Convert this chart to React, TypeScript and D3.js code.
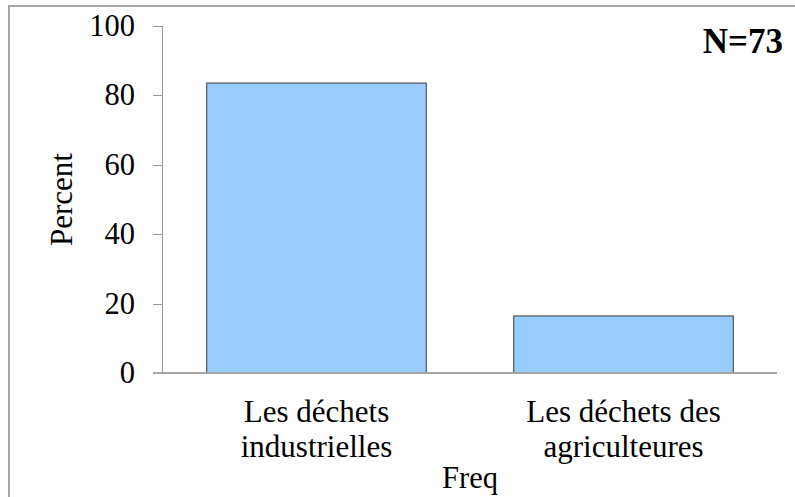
import React from "react";
import * as d3 from "d3";

const categories = ["Les déchets industrielles", "Les déchets des agriculteures"];
const categoryLines = [["Les déchets", "industrielles"], ["Les déchets des", "agriculteures"]];
const percents = [83.56, 16.44];
const yTicks = [0, 20, 40, 60, 80, 100];
const yLabel = "Percent";
const xLabel = "Freq";
const nLabel = "N=73";

const W = 795;
const H = 497;
const FONT = '"Liberation Serif", "Times New Roman", Times, serif';

export default function App() {
  const y = d3.scaleLinear().domain([0, 100]).range([373, 26]);
  const x = d3.scaleBand<string>().domain(categories).range([163, 777]).paddingInner(0.285).paddingOuter(0.1425);
  const ts = (size: number, weight = "normal") => ({ fontFamily: FONT, fontSize: size, fontWeight: weight as any });

  return (
    <svg width={W} height={H} style={{ position: "absolute", left: 0, top: 0, background: "#fff", fontFamily: FONT }}>
      <rect x={9} y={6} width={W + 20} height={H + 20} fill="#fff" stroke="#a6a6a6" strokeWidth={2} />
      {categories.map((c, i) => (
        <rect
          key={c}
          x={x(c)!}
          y={y(percents[i])}
          width={x.bandwidth()}
          height={y(0) - y(percents[i])}
          fill="#99ccff"
          stroke="#3a3a3a"
          strokeWidth={1}
        />
      ))}
      <line x1={162.5} x2={162.5} y1={y(100)} y2={y(0)} stroke="#999" strokeWidth={1} />
      {yTicks.map((t) => (
        <g key={t}>
          <line x1={153} x2={163} y1={Math.round(y(t)) + 0.5} y2={Math.round(y(t)) + 0.5} stroke="#999" strokeWidth={1} />
          <text x={135} y={y(t) + 10} textAnchor="end" style={ts(30.5)} fill="#000">
            {t}
          </text>
        </g>
      ))}
      <line x1={153} x2={777} y1={y(0)} y2={y(0)} stroke="#a6a6a6" strokeWidth={2} />
      {categories.map((c, i) =>
        categoryLines[i].map((ln, j) => (
          <text
            key={c + j}
            x={x(c)! + x.bandwidth() / 2}
            y={422 + j * 35}
            textAnchor="middle"
            style={ts(31)}
            fill="#000"
          >
            {ln}
          </text>
        ))
      )}
      <text x={470} y={488} textAnchor="middle" style={ts(30.5)} fill="#000">
        {xLabel}
      </text>
      <text
        transform={`translate(72, ${(y(0) + y(100)) / 2}) rotate(-90)`}
        textAnchor="middle"
        style={ts(31)}
        fill="#000"
      >
        {yLabel}
      </text>
      <text x={783} y={53} textAnchor="end" style={ts(35, "bold")} fill="#000">
        {nLabel}
      </text>
    </svg>
  );
}
